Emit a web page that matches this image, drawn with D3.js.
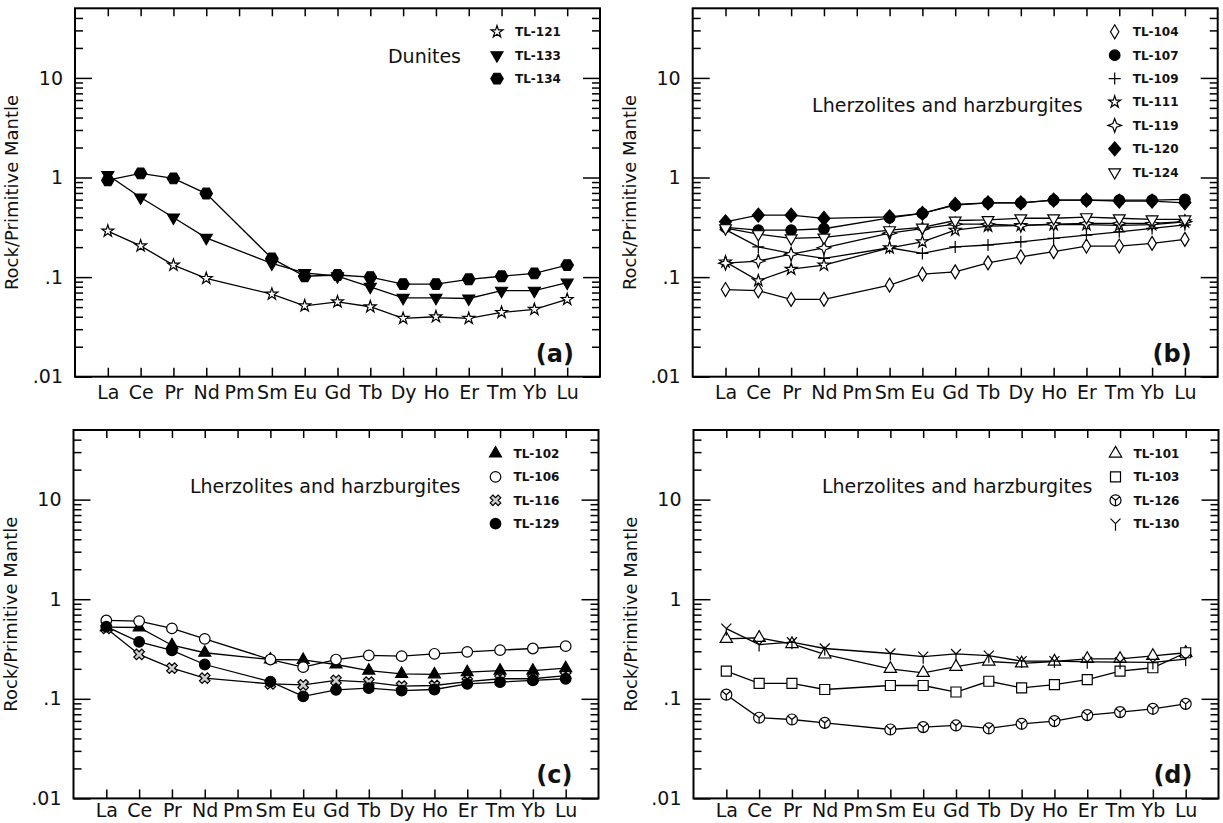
<!DOCTYPE html>
<html>
<head>
<meta charset="utf-8">
<script src="https://cdn.jsdelivr.net/npm/d3@7"></script>
<style>
  body { margin: 0; background: #fff; }
  text { font-family: "DejaVu Sans", sans-serif; fill: #111; }
</style>
</head>
<body>
<div id="container"></div>
<script>
// REE on the x axis
let ree = ["La", "Ce", "Pr", "Nd", "Pm", "Sm", "Eu", "Gd", "Tb", "Dy", "Ho", "Er", "Tm", "Yb", "Lu"];

let yMajor = [0.01, 0.1, 1, 10];
let yLabels = [".01", ".1", "1", "10"];

// (a) dunites
let tl121 = [0.29, 0.206, 0.132, 0.097, null, 0.0675, 0.0515, 0.0565, 0.0504, 0.0385, 0.040, 0.0385, 0.0442, 0.0474, 0.0597];
let tl133 = [1.06, 0.63, 0.397, 0.248, null, 0.137, 0.110, 0.102, 0.080, 0.062, 0.062, 0.061, 0.073, 0.073, 0.088];
let tl134 = [0.94, 1.10, 0.98, 0.69, null, 0.154, 0.102, 0.105, 0.100, 0.085, 0.085, 0.095, 0.102, 0.109, 0.132];

// (b)
let tl104 = [0.075, 0.073, 0.0597, 0.0597, null, 0.083, 0.107, 0.113, 0.139, 0.160, 0.180, 0.205, 0.205, 0.218, 0.239];
let tl107 = [0.316, 0.296, 0.296, 0.306, null, 0.394, 0.436, 0.528, 0.557, 0.557, 0.593, 0.593, 0.593, 0.593, 0.603];
let tl109 = [0.30, 0.201, 0.173, 0.154, null, 0.197, 0.173, 0.201, 0.21, 0.226, 0.245, 0.264, 0.285, 0.308, 0.335];
let tl111 = [0.142, 0.092, 0.12, 0.132, null, 0.197, 0.226, 0.296, 0.325, 0.33, 0.336, 0.336, 0.33, 0.336, 0.359];
let tl119 = [0.138, 0.145, 0.17, 0.197, null, 0.276, 0.306, 0.34, 0.34, 0.33, 0.34, 0.346, 0.346, 0.346, 0.36];
let tl120 = [0.359, 0.419, 0.419, 0.388, null, 0.403, 0.436, 0.537, 0.557, 0.557, 0.593, 0.593, 0.58, 0.58, 0.557];
let tl124 = [0.31, 0.27, 0.245, 0.25, null, 0.296, 0.315, 0.37, 0.375, 0.39, 0.39, 0.40, 0.39, 0.38, 0.38];

// (c)
let tl102 = [0.525, 0.52, 0.345, 0.29, null, 0.248, 0.246, 0.221, 0.192, 0.178, 0.176, 0.185, 0.192, 0.192, 0.203];
let tl106 = [0.612, 0.603, 0.509, 0.40, null, 0.248, 0.208, 0.248, 0.273, 0.268, 0.283, 0.296, 0.308, 0.32, 0.338];
let tl116 = [0.51, 0.279, 0.203, 0.161, null, 0.141, 0.138, 0.153, 0.147, 0.134, 0.136, 0.149, 0.159, 0.159, 0.171];
let tl129 = [0.53, 0.373, 0.306, 0.221, null, 0.149, 0.106, 0.123, 0.128, 0.121, 0.124, 0.141, 0.147, 0.153, 0.159];

// (d)
let tl101 = [0.40, 0.41, 0.355, 0.279, null, 0.20, 0.182, 0.21, 0.237, 0.227, 0.237, 0.252, 0.252, 0.27, 0.29];
let tl103 = [0.19, 0.143, 0.143, 0.124, null, 0.136, 0.136, 0.117, 0.15, 0.129, 0.139, 0.156, 0.19, 0.205, 0.29];
let tl126 = [0.110, 0.0645, 0.062, 0.0574, null, 0.0492, 0.052, 0.054, 0.0504, 0.0561, 0.0597, 0.0686, 0.0735, 0.0794, 0.089];
let tl130 = [0.506, 0.35, 0.37, 0.32, null, 0.285, 0.265, 0.282, 0.271, 0.239, 0.239, 0.235, 0.233, 0.232, 0.25];

let W = 525, H = 368.4;

let panels = [
  { tag: "(a)", left: 75, top: 8.3, pad: 9, title: "Dunites", tx: 386, ty: 55,
    series: [["TL-121", tl121, "star"], ["TL-133", tl133, "triDown"], ["TL-134", tl134, "hex"]] },
  { tag: "(b)", left: 692.7, top: 8.3, pad: 9, title: "Lherzolites and harzburgites", tx: 390, ty: 103.5,
    series: [["TL-104", tl104, "diamondTall"], ["TL-107", tl107, "dot"], ["TL-109", tl109, "plus"],
             ["TL-111", tl111, "star"], ["TL-119", tl119, "star4"], ["TL-120", tl120, "diamond"],
             ["TL-124", tl124, "triDownOpen"]] },
  { tag: "(c)", left: 73.5, top: 430, pad: 5.5, title: "Lherzolites and harzburgites", tx: 387, ty: 62.5,
    series: [["TL-102", tl102, "tri"], ["TL-106", tl106, "ring"], ["TL-116", tl116, "xOpen"], ["TL-129", tl129, "dot"]] },
  { tag: "(d)", left: 693.5, top: 430, pad: 5.5, title: "Lherzolites and harzburgites", tx: 399, ty: 62.5,
    series: [["TL-101", tl101, "triOpen"], ["TL-103", tl103, "square"], ["TL-126", tl126, "ringY"], ["TL-130", tl130, "wye"]] }
];

// marker shapes, centred on 0,0
let hex = d3.range(6).map(i => [6.2 * Math.cos(Math.PI / 3 * i), 6.2 * Math.sin(Math.PI / 3 * i)]);
let star4 = d3.range(8).map(i => {
  let r = i % 2 ? 2.6 : 6.8, a = Math.PI / 4 * i - Math.PI / 2;
  return [r * Math.cos(a), r * Math.sin(a)];
});
let poly = pts => "M" + pts.map(p => p.join(",")).join("L") + "Z";

let shapes = {
  star: { d: d3.symbol(d3.symbolStar, 44)(), fill: "#fff" },
  triDown: { d: d3.symbol(d3.symbolTriangle, 62)(), fill: "#000", rot: 180 },
  hex: { d: poly(hex), fill: "#000" },
  diamondTall: { d: "M0,-7L4.2,0L0,7L-4.2,0Z", fill: "#fff" },
  dot: { d: d3.symbol(d3.symbolCircle, 88)(), fill: "#000" },
  plus: { d: "M-6,0H6M0,-6V6", fill: "none" },
  star4: { d: poly(star4), fill: "#fff" },
  diamond: { d: "M0,-7L6,0L0,7L-6,0Z", fill: "#000" },
  triDownOpen: { d: d3.symbol(d3.symbolTriangle, 60)(), fill: "#fff", rot: 180 },
  tri: { d: d3.symbol(d3.symbolTriangle, 62)(), fill: "#000" },
  ring: { d: d3.symbol(d3.symbolCircle, 88)(), fill: "#fff" },
  xOpen: { d: d3.symbol(d3.symbolCross, 70)(), fill: "#ccc", rot: 45 },
  triOpen: { d: d3.symbol(d3.symbolTriangle, 66)(), fill: "#fff" },
  square: { d: "M-5,-5H5V5H-5Z", fill: "#fff" },
  ringY: { d: d3.symbol(d3.symbolCircle, 95)() + "M0,0L-4.1,-3.4M0,0L4.1,-3.4M0,0V5.5", fill: "#fff" },
  wye: { d: "M0,0L-5,-5M0,0L5,-5M0,0V7", fill: "none" }
};

function marker(g, kind, x, y) {
  let s = shapes[kind];
  g.append("path")
    .attr("d", s.d)
    .attr("transform", "translate(" + x + "," + y + ")" + (s.rot ? " rotate(" + s.rot + ")" : ""))
    .attr("fill", s.fill)
    .attr("stroke", "#000")
    .attr("stroke-width", 1.2);
}

let svg = d3.select("#container").append("svg")
  .attr("width", 1223)
  .attr("height", 823);

let yMinor = [];
yMajor.forEach(d => d3.range(2, 10).forEach(k => { if (d * k < 50) yMinor.push(d * k); }));

panels.forEach(p => {
  let g = svg.append("g").attr("transform", "translate(" + p.left + "," + p.top + ")");

  let x = d3.scalePoint().domain(ree).range([0, W]).padding(1);
  let y = d3.scaleLog().domain([0.01, 50]).range([H, 0]);

  // ticks, all pointing inward
  g.append("g").call(d3.axisLeft(y).tickValues(yMajor).tickFormat((d, i) => yLabels[i]).tickSize(-17).tickPadding(12));
  g.append("g").call(d3.axisLeft(y).tickValues(yMinor).tickFormat("").tickSize(-8));
  g.append("g").attr("transform", "translate(" + W + ",0)")
    .call(d3.axisRight(y).tickValues(yMajor).tickFormat("").tickSize(-17));
  g.append("g").attr("transform", "translate(" + W + ",0)")
    .call(d3.axisRight(y).tickValues(yMinor).tickFormat("").tickSize(-8));
  g.append("g").call(d3.axisTop(x).tickFormat("").tickSize(-8));
  g.append("g").attr("transform", "translate(0," + H + ")")
    .call(d3.axisBottom(x).tickSize(-9).tickPadding(p.pad));

  g.selectAll(".domain").remove();
  g.selectAll(".tick line").attr("stroke", "#000").attr("stroke-width", 1.5);
  g.selectAll(".tick text").attr("font-size", 19).attr("fill", "#111")
    .attr("font-family", "DejaVu Sans, sans-serif");

  g.append("rect")
    .attr("width", W)
    .attr("height", H)
    .attr("fill", "none")
    .attr("stroke", "#000")
    .attr("stroke-width", 2);

  g.append("text")
    .text("Rock/Primitive Mantle")
    .attr("transform", "translate(" + (-57) + "," + (H / 2) + ") rotate(-90)")
    .attr("text-anchor", "middle")
    .attr("font-size", 18);

  g.append("text")
    .text(p.title)
    .attr("x", p.tx)
    .attr("y", p.ty)
    .attr("text-anchor", "end")
    .attr("font-size", 19);

  g.append("text")
    .text(p.tag)
    .attr("x", W - 26)
    .attr("y", H - 15)
    .attr("text-anchor", "end")
    .attr("font-size", 24)
    .attr("font-weight", "bold");

  let line = d3.line().x(d => x(d[0])).y(d => y(d[1]));

  p.series.forEach((s, i) => {
    let pts = ree.map((r, j) => [r, s[1][j]]).filter(d => d[1] != null);
    g.append("path")
      .attr("d", line(pts))
      .attr("fill", "none")
      .attr("stroke", "#000")
      .attr("stroke-width", 1.3);
    pts.forEach(d => marker(g, s[2], x(d[0]), y(d[1])));

    // legend
    let ly = 23.5 + i * 23.4;
    marker(g, s[2], 422, ly);
    g.append("text")
      .text(s[0])
      .attr("x", 440)
      .attr("y", ly + 4.5)
      .attr("font-size", 12)
      .attr("font-weight", "bold");
  });
});
</script>
</body>
</html>
